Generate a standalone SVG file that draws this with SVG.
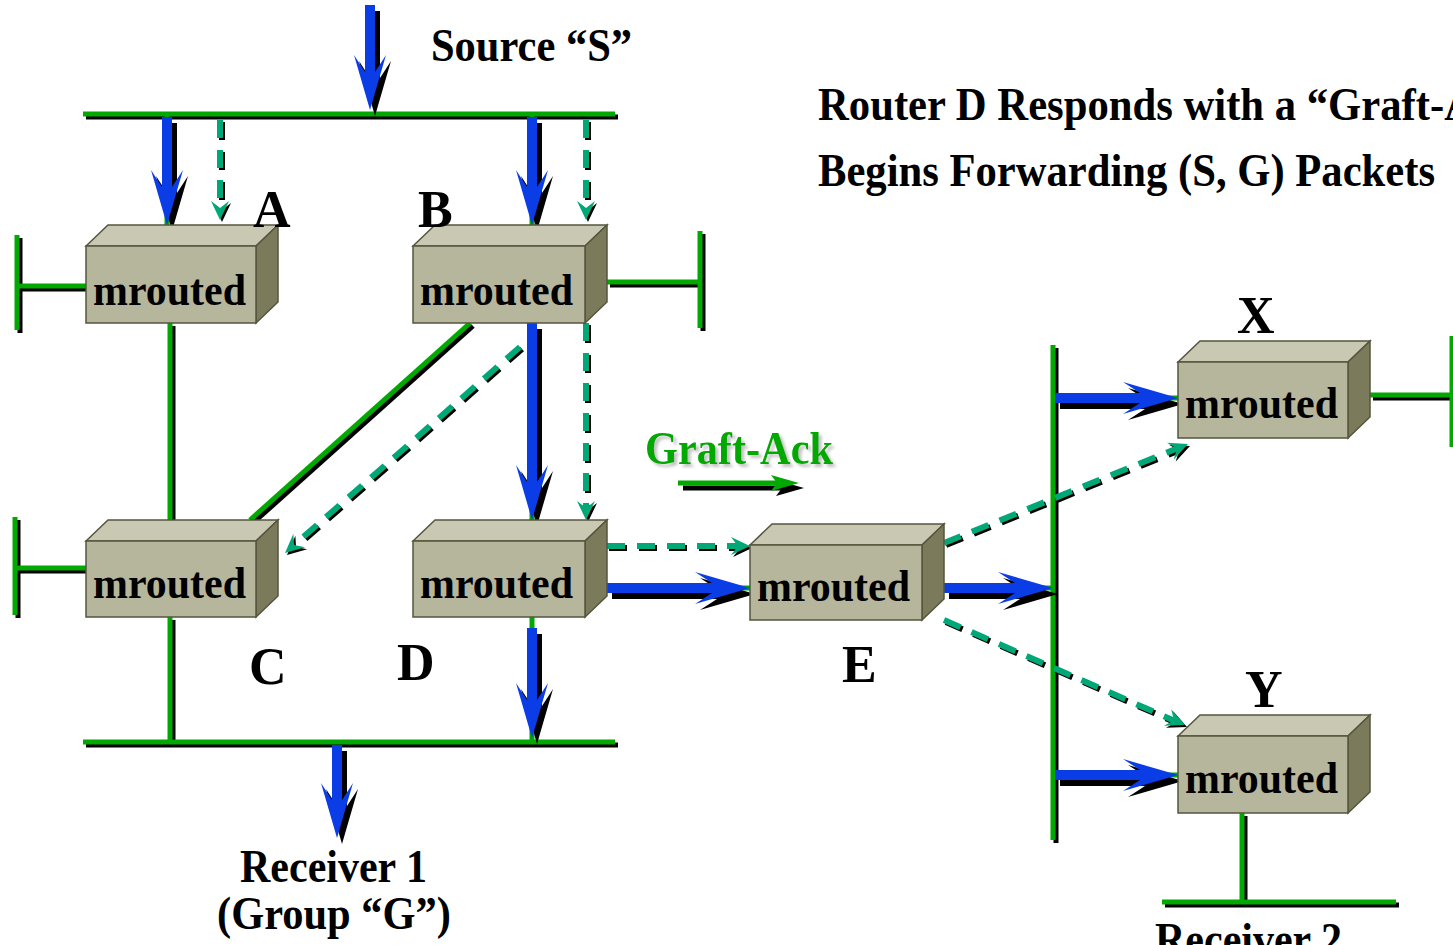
<svg xmlns="http://www.w3.org/2000/svg" xmlns:xlink="http://www.w3.org/1999/xlink" width="1453" height="945" viewBox="0 0 1453 945">
<style>
.bus{stroke:#00a800;stroke-width:5;fill:none}
.busS{stroke:#000;stroke-width:5;fill:none}
.shd{fill:#000;stroke:#000}
.blu{fill:#0a3de6;stroke:#0a3de6}
.shd line,.blu line{stroke-width:10}
.shd use,.blu use{stroke:none}
.tl{fill:#00a878;stroke:#00a878}
.ts{fill:#000;stroke:#000}
.tl line,.ts line{stroke-width:6;stroke-dasharray:18 12}
.tl use,.ts use{stroke:none}
.top{fill:#c8c8b3;stroke:#55553f;stroke-width:1.5}
.side{fill:#7b7b5b;stroke:#55553f;stroke-width:1.5}
.front{fill:#b6b69d;stroke:#55553f;stroke-width:1.5}
.mr{font-family:"Liberation Serif",serif;font-weight:bold;font-size:45px;fill:#000}
.lbl{font-family:"Liberation Serif",serif;font-weight:bold;font-size:52px;fill:#000}
.txt{font-family:"Liberation Serif",serif;font-weight:bold;font-size:46px;fill:#000}
</style>
<defs>
<path id="bh" d="M0,0 L-55,-16 L-38,-5 L-38,5 L-55,16 Z"/>
<path id="th" d="M0,0 L-19,-9 L-12,0 L-19,9 Z"/>
<path id="gh" d="M0,0 L-28,-8 L-22,0 L-28,8 Z"/>
<filter id="soft" x="-10%" y="-20%" width="130%" height="150%">
  <feDropShadow dx="3" dy="3" stdDeviation="1.5" flood-color="#999" flood-opacity="0.6"/>
</filter>
</defs>
<rect width="1453" height="945" fill="#fff"/>

<g id="connectors">
  <g class="busS" transform="translate(3,3)">
    <line x1="83" y1="114" x2="615" y2="114"/>
    <line x1="83" y1="742" x2="615" y2="742"/>
    <line x1="17" y1="235" x2="17" y2="330"/>
    <line x1="17" y1="286" x2="86" y2="286"/>
    <line x1="15" y1="517" x2="15" y2="615"/>
    <line x1="15" y1="568" x2="86" y2="568"/>
    <line x1="607" y1="282" x2="700" y2="282"/>
    <line x1="700" y1="231" x2="700" y2="328"/>
    <line x1="170" y1="323" x2="170" y2="541"/>
    <line x1="170" y1="617" x2="170" y2="742"/>
    <line x1="470" y1="323" x2="250" y2="520"/>
    <line x1="1053" y1="345" x2="1053" y2="840"/>
    <line x1="1370" y1="395" x2="1453" y2="395"/>
    <line x1="1242" y1="813" x2="1242" y2="902"/>
    <line x1="1162" y1="902" x2="1396" y2="902"/>
  </g>
  <g class="bus">
    <line x1="83" y1="114" x2="615" y2="114"/>
    <line x1="83" y1="742" x2="615" y2="742"/>
    <line x1="17" y1="235" x2="17" y2="330"/>
    <line x1="17" y1="286" x2="86" y2="286"/>
    <line x1="15" y1="517" x2="15" y2="615"/>
    <line x1="15" y1="568" x2="86" y2="568"/>
    <line x1="607" y1="282" x2="700" y2="282"/>
    <line x1="700" y1="231" x2="700" y2="328"/>
    <line x1="170" y1="323" x2="170" y2="541"/>
    <line x1="170" y1="617" x2="170" y2="742"/>
    <line x1="470" y1="323" x2="250" y2="520"/>
    <line x1="1053" y1="345" x2="1053" y2="840"/>
    <line x1="1370" y1="395" x2="1453" y2="395"/>
    <line x1="1452" y1="336" x2="1452" y2="447"/>
    <line x1="1242" y1="813" x2="1242" y2="902"/>
    <line x1="1162" y1="902" x2="1396" y2="902"/>
    <line x1="167" y1="114" x2="167" y2="246"/>
    <line x1="532" y1="114" x2="532" y2="246"/>
    <line x1="532" y1="323" x2="532" y2="541"/>
    <line x1="532" y1="617" x2="532" y2="742"/>
    <line x1="607" y1="588" x2="750" y2="588"/>
    <line x1="944" y1="588" x2="1053" y2="588"/>
    <line x1="1053" y1="398" x2="1178" y2="398"/>
    <line x1="1053" y1="775" x2="1178" y2="775"/>
  </g>

  <g class="shd" transform="translate(5,6)">
    <line x1="370" y1="5" x2="370" y2="72"/><use xlink:href="#bh" transform="translate(370,110) rotate(90)"/>
    <line x1="167" y1="117" x2="167" y2="187"/><use xlink:href="#bh" transform="translate(167,225) rotate(90)"/>
    <line x1="532" y1="117" x2="532" y2="187"/><use xlink:href="#bh" transform="translate(532,225) rotate(90)"/>
    <line x1="532" y1="323" x2="532" y2="482"/><use xlink:href="#bh" transform="translate(532,520) rotate(90)"/>
    <line x1="532" y1="628" x2="532" y2="700"/><use xlink:href="#bh" transform="translate(532,738) rotate(90)"/>
    <line x1="337" y1="745" x2="337" y2="800"/><use xlink:href="#bh" transform="translate(337,838) rotate(90)"/>
    <line x1="607" y1="588" x2="712" y2="588"/><use xlink:href="#bh" transform="translate(750,588)"/>
    <line x1="944" y1="588" x2="1015" y2="588"/><use xlink:href="#bh" transform="translate(1053,588)"/>
    <line x1="1055" y1="398" x2="1140" y2="398"/><use xlink:href="#bh" transform="translate(1178,398)"/>
    <line x1="1055" y1="775" x2="1140" y2="775"/><use xlink:href="#bh" transform="translate(1178,775)"/>
  </g>
  <g class="blu">
    <line x1="370" y1="5" x2="370" y2="72"/><use xlink:href="#bh" transform="translate(370,110) rotate(90)"/>
    <line x1="167" y1="117" x2="167" y2="187"/><use xlink:href="#bh" transform="translate(167,225) rotate(90)"/>
    <line x1="532" y1="117" x2="532" y2="187"/><use xlink:href="#bh" transform="translate(532,225) rotate(90)"/>
    <line x1="532" y1="323" x2="532" y2="482"/><use xlink:href="#bh" transform="translate(532,520) rotate(90)"/>
    <line x1="532" y1="628" x2="532" y2="700"/><use xlink:href="#bh" transform="translate(532,738) rotate(90)"/>
    <line x1="337" y1="745" x2="337" y2="800"/><use xlink:href="#bh" transform="translate(337,838) rotate(90)"/>
    <line x1="607" y1="588" x2="712" y2="588"/><use xlink:href="#bh" transform="translate(750,588)"/>
    <line x1="944" y1="588" x2="1015" y2="588"/><use xlink:href="#bh" transform="translate(1053,588)"/>
    <line x1="1055" y1="398" x2="1140" y2="398"/><use xlink:href="#bh" transform="translate(1178,398)"/>
    <line x1="1055" y1="775" x2="1140" y2="775"/><use xlink:href="#bh" transform="translate(1178,775)"/>
  </g>

  <g class="ts" transform="translate(2,2)">
    <line x1="220" y1="120" x2="220" y2="209"/><use xlink:href="#th" transform="translate(220,220) rotate(90)"/>
    <line x1="586" y1="120" x2="586" y2="209"/><use xlink:href="#th" transform="translate(586,220) rotate(90)"/>
    <line x1="586" y1="323" x2="586" y2="509"/><use xlink:href="#th" transform="translate(586,520) rotate(90)"/>
    <line x1="520" y1="347" x2="293" y2="546"/><use xlink:href="#th" transform="translate(285,553) rotate(138.8)"/>
    <line x1="607" y1="546" x2="739" y2="546"/><use xlink:href="#th" transform="translate(750,546)"/>
    <line x1="944" y1="543" x2="1178" y2="448"/><use xlink:href="#th" transform="translate(1188,444) rotate(-22.1)"/>
    <line x1="944" y1="620" x2="1175" y2="721"/><use xlink:href="#th" transform="translate(1185,725) rotate(23.5)"/>
  </g>
  <g class="tl">
    <line x1="220" y1="120" x2="220" y2="209"/><use xlink:href="#th" transform="translate(220,220) rotate(90)"/>
    <line x1="586" y1="120" x2="586" y2="209"/><use xlink:href="#th" transform="translate(586,220) rotate(90)"/>
    <line x1="586" y1="323" x2="586" y2="509"/><use xlink:href="#th" transform="translate(586,520) rotate(90)"/>
    <line x1="520" y1="347" x2="293" y2="546"/><use xlink:href="#th" transform="translate(285,553) rotate(138.8)"/>
    <line x1="607" y1="546" x2="739" y2="546"/><use xlink:href="#th" transform="translate(750,546)"/>
    <line x1="944" y1="543" x2="1178" y2="448"/><use xlink:href="#th" transform="translate(1188,444) rotate(-22.1)"/>
    <line x1="944" y1="620" x2="1175" y2="721"/><use xlink:href="#th" transform="translate(1185,725) rotate(23.5)"/>
  </g>

  <g transform="translate(5,5)">
    <line x1="678" y1="483" x2="780" y2="483" stroke="#000" stroke-width="5"/>
    <use xlink:href="#gh" transform="translate(799,483)" fill="#000"/>
  </g>
  <line x1="678" y1="483" x2="780" y2="483" stroke="#00a800" stroke-width="5"/>
  <use xlink:href="#gh" transform="translate(799,483)" fill="#00a800"/>
</g>

<g id="router-A">
  <polygon class="top" points="86,246 108,225 278,225 256,246"/>
  <polygon class="side" points="256,246 278,225 278,302 256,323"/>
  <rect class="front" x="86" y="246" width="170" height="77"/>
  <text class="mr" x="93" y="305" textLength="153" lengthAdjust="spacingAndGlyphs">mrouted</text>
</g>
<g id="router-B">
  <polygon class="top" points="413,246 435,225 607,225 585,246"/>
  <polygon class="side" points="585,246 607,225 607,302 585,323"/>
  <rect class="front" x="413" y="246" width="172" height="77"/>
  <text class="mr" x="420" y="305" textLength="153" lengthAdjust="spacingAndGlyphs">mrouted</text>
</g>
<g id="router-C">
  <polygon class="top" points="86,541 108,520 278,520 256,541"/>
  <polygon class="side" points="256,541 278,520 278,596 256,617"/>
  <rect class="front" x="86" y="541" width="170" height="76"/>
  <text class="mr" x="93" y="598" textLength="153" lengthAdjust="spacingAndGlyphs">mrouted</text>
</g>
<g id="router-D">
  <polygon class="top" points="413,541 435,520 607,520 585,541"/>
  <polygon class="side" points="585,541 607,520 607,596 585,617"/>
  <rect class="front" x="413" y="541" width="172" height="76"/>
  <text class="mr" x="420" y="598" textLength="153" lengthAdjust="spacingAndGlyphs">mrouted</text>
</g>
<g id="router-E">
  <polygon class="top" points="750,545 772,524 944,524 922,545"/>
  <polygon class="side" points="922,545 944,524 944,599 922,620"/>
  <rect class="front" x="750" y="545" width="172" height="75"/>
  <text class="mr" x="757" y="601" textLength="153" lengthAdjust="spacingAndGlyphs">mrouted</text>
</g>
<g id="router-X">
  <polygon class="top" points="1178,362 1200,341 1370,341 1348,362"/>
  <polygon class="side" points="1348,362 1370,341 1370,417 1348,438"/>
  <rect class="front" x="1178" y="362" width="170" height="76"/>
  <text class="mr" x="1185" y="418" textLength="153" lengthAdjust="spacingAndGlyphs">mrouted</text>
</g>
<g id="router-Y">
  <polygon class="top" points="1178,736 1200,715 1370,715 1348,736"/>
  <polygon class="side" points="1348,736 1370,715 1370,792 1348,813"/>
  <rect class="front" x="1178" y="736" width="170" height="77"/>
  <text class="mr" x="1185" y="793" textLength="153" lengthAdjust="spacingAndGlyphs">mrouted</text>
</g>

<g id="labels">
  <text class="lbl" x="253" y="227">A</text>
  <text class="lbl" x="418" y="227">B</text>
  <text class="lbl" x="249" y="684">C</text>
  <text class="lbl" x="397" y="680">D</text>
  <text class="lbl" x="842" y="682">E</text>
  <text class="lbl" x="1237" y="333">X</text>
  <text class="lbl" x="1245" y="707">Y</text>
  <text class="txt" x="431" y="61" textLength="201" lengthAdjust="spacingAndGlyphs">Source “S”</text>
  <text class="txt" x="818" y="120" font-size="47" textLength="657" lengthAdjust="spacingAndGlyphs">Router D Responds with a “Graft-A</text>
  <text class="txt" x="818" y="186" font-size="47" textLength="617" lengthAdjust="spacingAndGlyphs">Begins Forwarding (S, G) Packets</text>
  <text class="txt" x="240" y="882" font-size="45" textLength="187" lengthAdjust="spacingAndGlyphs">Receiver 1</text>
  <text class="txt" x="217" y="929" font-size="45" textLength="234" lengthAdjust="spacingAndGlyphs">(Group “G”)</text>
  <text class="txt" x="1155" y="955" font-size="45" textLength="187" lengthAdjust="spacingAndGlyphs">Receiver 2</text>
  <text class="txt" x="645" y="464" font-size="45" textLength="188" lengthAdjust="spacingAndGlyphs" filter="url(#soft)" style="fill:#00a800">Graft-Ack</text>
</g>
</svg>
